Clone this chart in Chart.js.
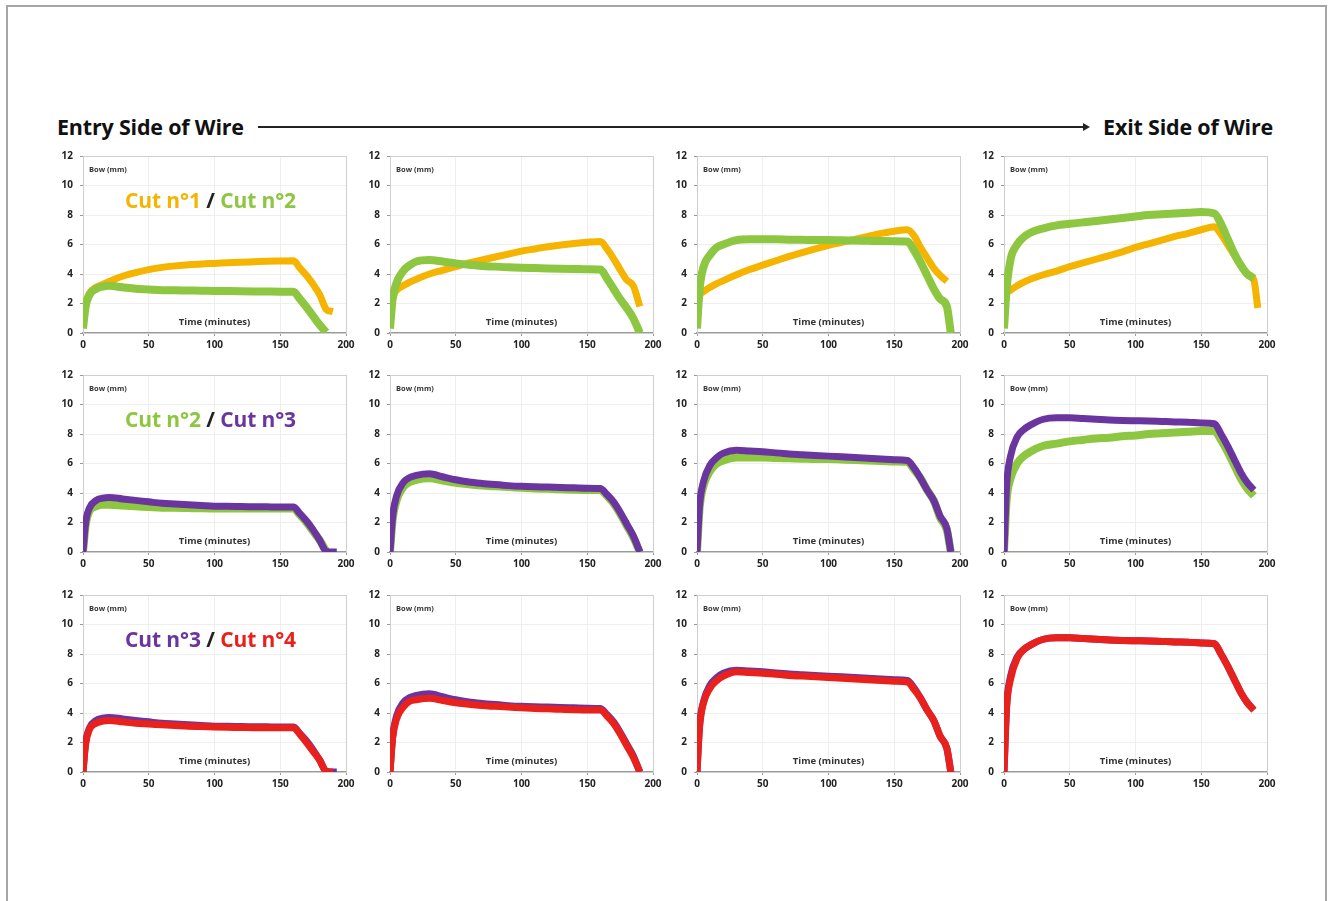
<!DOCTYPE html>
<html>
<head>
<meta charset="utf-8">
<script src="https://cdn.jsdelivr.net/npm/chart.js@4.4.1/dist/chart.umd.min.js"></script>
<style>
body { margin: 0; background: #fff; width: 1329px; height: 901px; position: relative; overflow: hidden; font-family: "Open Sans", sans-serif; }
.frame { position: absolute; left: 6px; top: 5px; width: 1317px; height: 900px; border: 2px solid #a6a6a6; border-bottom: none; }
.head { position: absolute; top: 112px; font-weight: bold; font-size: 21.5px; color: #111; line-height: 30px; letter-spacing: -0.2px; }
.arrow { position: absolute; left: 258px; top: 126px; width: 826px; height: 2px; background: #222; }
.arrow:after { content: ""; position: absolute; right: -6px; top: -3px; border-left: 7px solid #222; border-top: 4px solid transparent; border-bottom: 4px solid transparent; }
.panel { position: absolute; }
.legend { position: absolute; font-weight: bold; font-size: 21px; line-height: 26px; white-space: nowrap; letter-spacing: -0.1px; }
</style>
</head>
<body>
<div class="frame"></div>
<div class="head" style="left:57px">Entry Side of Wire</div>
<div class="arrow"></div>
<div class="head" style="right:56px">Exit Side of Wire</div>

<script>
// sample times (minutes), shared by every series
const minutes = [0, 2, 5, 10, 15, 20, 30, 40, 50, 60, 70, 80, 90, 100, 110, 120, 130, 140, 150, 160, 165, 170, 175, 180, 185, 190, 193];

// row 1 : cut 1 / cut 2
const r1c1_cut1 = [0.8, 2.0, 2.7, 3.1, 3.3, 3.5, 3.85, 4.1, 4.3, 4.45, 4.55, 4.62, 4.68, 4.72, 4.76, 4.8, 4.83, 4.86, 4.88, 4.9, 4.4, 3.9, 3.3, 2.6, 1.6, 1.45, null];
const r1c1_cut2 = [0.3, 1.8, 2.6, 3.0, 3.15, 3.2, 3.1, 3.0, 2.95, 2.9, 2.9, 2.88, 2.87, 2.85, 2.84, 2.83, 2.82, 2.81, 2.8, 2.8, 2.3, 1.75, 1.15, 0.55, 0.05, null, null];
const r1c2_cut1 = [1.5, 2.4, 2.9, 3.2, 3.45, 3.65, 4.0, 4.25, 4.5, 4.75, 4.95, 5.15, 5.35, 5.55, 5.7, 5.85, 5.97, 6.07, 6.15, 6.2, 5.7, 5.05, 4.3, 3.6, 3.2, 1.8, null];
const r1c2_cut2 = [0.3, 2.3, 3.4, 4.2, 4.6, 4.85, 4.95, 4.85, 4.72, 4.62, 4.55, 4.5, 4.45, 4.42, 4.4, 4.38, 4.36, 4.34, 4.32, 4.3, 3.7, 3.0, 2.3, 1.7, 1.0, 0, null];
const r1c3_cut1 = [1.5, 2.5, 2.8, 3.1, 3.35, 3.55, 3.95, 4.3, 4.6, 4.9, 5.2, 5.45, 5.7, 5.95, 6.15, 6.35, 6.55, 6.75, 6.9, 7.0, 6.6, 5.8, 5.1, 4.4, 3.9, 3.5, null];
const r1c3_cut2 = [0.3, 3.0, 4.5, 5.3, 5.8, 6.0, 6.3, 6.35, 6.35, 6.35, 6.33, 6.32, 6.3, 6.3, 6.28, 6.27, 6.25, 6.23, 6.22, 6.2, 5.6, 4.8, 3.9, 3.0, 2.3, 1.8, 0];
const r1c4_cut1 = [1.5, 2.6, 2.9, 3.2, 3.45, 3.65, 3.95, 4.2, 4.5, 4.75, 5.0, 5.25, 5.5, 5.8, 6.05, 6.3, 6.55, 6.75, 7.0, 7.2, 6.7, 6.0, 5.3, 4.6, 4.0, 3.6, 1.7];
const r1c4_cut2 = [0.3, 3.0, 5.0, 6.0, 6.5, 6.8, 7.1, 7.3, 7.4, 7.5, 7.6, 7.7, 7.8, 7.9, 8.0, 8.05, 8.1, 8.15, 8.2, 8.1, 7.4, 6.4, 5.4, 4.6, 4.0, 3.7, null];

// row 2 : cut 2 / cut 3
const r2c1_cut2 = [0, 1.8, 2.8, 3.1, 3.2, 3.2, 3.15, 3.1, 3.05, 3.0, 3.0, 2.98, 2.96, 2.95, 2.95, 2.95, 2.95, 2.95, 2.95, 2.95, 2.5, 2.0, 1.4, 0.8, 0.05, null, null];
const r2c1_cut3 = [0, 2.0, 3.0, 3.5, 3.65, 3.7, 3.6, 3.5, 3.4, 3.3, 3.25, 3.2, 3.15, 3.1, 3.1, 3.08, 3.07, 3.06, 3.05, 3.05, 2.6, 2.1, 1.5, 0.8, 0.05, 0, 0];
const r2c2_cut2 = [0, 2.2, 3.5, 4.4, 4.75, 4.9, 5.0, 4.85, 4.7, 4.6, 4.5, 4.45, 4.4, 4.35, 4.3, 4.28, 4.25, 4.22, 4.2, 4.2, 3.8, 3.3, 2.6, 1.8, 1.0, 0, null];
const r2c2_cut3 = [0, 2.4, 3.8, 4.7, 5.05, 5.2, 5.3, 5.1, 4.9, 4.75, 4.65, 4.57, 4.5, 4.45, 4.42, 4.4, 4.37, 4.35, 4.33, 4.3, 3.9, 3.4, 2.7, 1.9, 1.1, 0, null];
const r2c3_cut2 = [0, 3.0, 4.5, 5.5, 6.0, 6.2, 6.4, 6.4, 6.4, 6.37, 6.35, 6.33, 6.3, 6.3, 6.27, 6.24, 6.2, 6.17, 6.13, 6.1, 5.6, 5.0, 4.2, 3.5, 2.3, 1.5, 0];
const r2c3_cut3 = [0, 3.2, 4.8, 5.9, 6.4, 6.7, 6.9, 6.85, 6.8, 6.72, 6.65, 6.6, 6.55, 6.5, 6.45, 6.4, 6.35, 6.3, 6.25, 6.2, 5.7, 5.0, 4.2, 3.5, 2.4, 1.6, 0];
const r2c4_cut2 = [0, 3.5, 5.0, 6.0, 6.5, 6.8, 7.2, 7.35, 7.5, 7.6, 7.7, 7.75, 7.85, 7.9, 8.0, 8.05, 8.1, 8.15, 8.2, 8.2, 7.6, 6.8, 5.9, 5.0, 4.3, 3.8, null];
const r2c4_cut3 = [0, 4.5, 6.5, 7.8, 8.3, 8.6, 9.0, 9.1, 9.1, 9.05, 9.0, 8.95, 8.92, 8.9, 8.88, 8.85, 8.82, 8.8, 8.75, 8.7, 8.0, 7.2, 6.3, 5.4, 4.7, 4.2, null];

// row 3 : cut 3 / cut 4 (cut 3 values are the row 2 ones)
const r3c1_cut4 = [0, 1.9, 2.9, 3.3, 3.45, 3.5, 3.4, 3.3, 3.25, 3.2, 3.15, 3.1, 3.08, 3.05, 3.03, 3.02, 3.0, 3.0, 3.0, 3.0, 2.55, 2.0, 1.4, 0.8, 0.05, 0, null];
const r3c2_cut4 = [0, 2.3, 3.6, 4.4, 4.8, 4.9, 5.0, 4.85, 4.7, 4.6, 4.5, 4.45, 4.4, 4.35, 4.3, 4.28, 4.25, 4.22, 4.2, 4.2, 3.8, 3.3, 2.6, 1.8, 1.0, 0, null];
const r3c3_cut4 = [0, 3.1, 4.7, 5.7, 6.2, 6.5, 6.8, 6.75, 6.7, 6.62, 6.55, 6.5, 6.45, 6.4, 6.35, 6.3, 6.25, 6.2, 6.15, 6.1, 5.6, 5.0, 4.2, 3.5, 2.4, 1.6, 0];
const r3c4_cut4 = [0, 4.4, 6.3, 7.7, 8.3, 8.6, 9.0, 9.1, 9.1, 9.05, 9.0, 8.95, 8.92, 8.9, 8.88, 8.85, 8.82, 8.8, 8.75, 8.7, 8.0, 7.2, 6.3, 5.4, 4.7, 4.2, null];

const cutColors = { 1: "#F4B400", 2: "#8DC641", 3: "#6B35A0", 4: "#E8211D" };

const rows = [
    { cuts: [1, 2], data: [[r1c1_cut1, r1c1_cut2], [r1c2_cut1, r1c2_cut2], [r1c3_cut1, r1c3_cut2], [r1c4_cut1, r1c4_cut2]] },
    { cuts: [2, 3], data: [[r2c1_cut2, r2c1_cut3], [r2c2_cut2, r2c2_cut3], [r2c3_cut2, r2c3_cut3], [r2c4_cut2, r2c4_cut3]] },
    { cuts: [3, 4], data: [[r2c1_cut3, r3c1_cut4], [r2c2_cut3, r3c2_cut4], [r2c3_cut3, r3c3_cut4], [r2c4_cut3, r3c4_cut4]] }
];

const xTicks = [0, 50, 100, 150, 200];
const yTicks = [0, 2, 4, 6, 8, 10, 12];

// plot area placement
const colX = [83, 390, 697, 1004];
const rowY = [156, 375, 595];
const plotW = 263, plotH = 177;
const padL = 34, padT = 16, padR = 14, padB = 24;

const innerText = {
    id: "innerText",
    beforeDatasetsDraw(chart) {
        const { ctx, chartArea: a } = chart;
        ctx.save();
        ctx.strokeStyle = "#cfcfcf";
        ctx.lineWidth = 1;
        ctx.strokeRect(a.left + 0.5, a.top + 0.5, a.right - a.left, a.bottom - a.top);
        ctx.restore();
    },
    afterDatasetsDraw(chart) {
        const { ctx, chartArea: a } = chart;
        ctx.save();
        ctx.fillStyle = "#333";
        ctx.textBaseline = "middle";
        ctx.font = "bold 7.5px 'Open Sans'";
        ctx.textAlign = "left";
        ctx.fillText("Bow (mm)", a.left + 6, a.top + 14);
        ctx.font = "bold 9.5px 'Open Sans'";
        ctx.textAlign = "center";
        ctx.fillText("Time (minutes)", (a.left + a.right) / 2, a.bottom - 11);
        ctx.restore();
    }
};

function makePanel(r, c) {
    const row = rows[r];
    const div = document.createElement("div");
    div.className = "panel";
    div.style.left = (colX[c] - padL) + "px";
    div.style.top = (rowY[r] - padT) + "px";
    const canvas = document.createElement("canvas");
    canvas.width = padL + plotW + padR;
    canvas.height = padT + plotH + padB;
    div.appendChild(canvas);
    document.body.appendChild(div);

    // later cut drawn on top
    const datasets = row.cuts.map((cut, i) => ({
        label: "Cut n°" + cut,
        data: minutes.map((m, k) => ({ x: m, y: row.data[c][i][k] })),
        borderColor: cutColors[cut],
        borderWidth: cut === 2 ? 8 : 7,
        pointRadius: 0,
        cubicInterpolationMode: "monotone",
        spanGaps: false,
        order: row.cuts.length - i
    }));

    const tickFont = { family: "Open Sans", weight: "bold", size: 10 };
    new Chart(canvas.getContext("2d"), {
        type: "line",
        data: { datasets: datasets },
        options: {
            responsive: false,
            animation: false,
            layout: { padding: { top: padT, right: padR, left: 0, bottom: 0 } },
            plugins: { legend: { display: false }, tooltip: { enabled: false } },
            scales: {
                x: {
                    type: "linear", min: 0, max: 200,
                    afterBuildTicks: s => { s.ticks = xTicks.map(v => ({ value: v })); },
                    afterFit: s => { s.height = padB; },
                    grid: { color: "#efefef", tickColor: "#9a9a9a", tickLength: 3 },
                    border: { color: "#9a9a9a", width: 1.5 },
                    ticks: { font: tickFont, color: "#222", padding: 3, maxRotation: 0 }
                },
                y: {
                    min: 0, max: 12,
                    afterBuildTicks: s => { s.ticks = yTicks.map(v => ({ value: v })); },
                    afterFit: s => { s.width = padL; },
                    grid: { color: "#efefef", tickColor: "#9a9a9a", tickLength: 3 },
                    border: { color: "#b0b0b0", width: 1 },
                    ticks: { font: tickFont, color: "#222", padding: 7 }
                }
            }
        },
        plugins: [innerText]
    });

    if (c === 0) {
        const leg = document.createElement("div");
        leg.className = "legend";
        leg.style.left = (colX[c] + 42) + "px";
        leg.style.top = (rowY[r] + 31) + "px";
        const a = row.cuts[0], b = row.cuts[1];
        leg.innerHTML = '<span style="color:' + cutColors[a] + '">Cut n°' + a + '</span>' +
            ' <span style="color:#222">/</span> ' +
            '<span style="color:' + cutColors[b] + '">Cut n°' + b + '</span>';
        document.body.appendChild(leg);
    }
}

for (let r = 0; r < rows.length; r++) {
    for (let c = 0; c < colX.length; c++) {
        makePanel(r, c);
    }
}
</script>
</body>
</html>
